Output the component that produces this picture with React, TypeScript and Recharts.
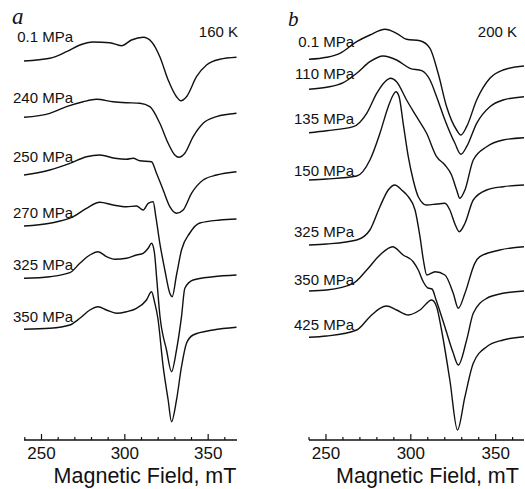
import React from "react";
import { LineChart, Line, XAxis, YAxis } from "recharts";

// field (mT) / signal (a.u., stacked)
// panel a, 160 K
const pressuresA = ["0.1 MPa", "240 MPa", "250 MPa", "270 MPa", "325 MPa", "350 MPa"];

const fieldA01 = [239.5, 255, 265, 273, 281, 291, 298, 304, 311, 316, 321, 326, 331, 333.6, 337, 343, 349, 357, 367];
const signalA01 = [379, 381.7, 388.3, 395, 398, 397.3, 394.3, 400, 402.7, 398.3, 383.3, 360, 343.3, 339.3, 343.3, 363.3, 375, 380.7, 382.7];

const fieldA240 = [239.5, 255, 265, 275, 283, 293, 301, 309, 315, 321, 326, 330, 332.4, 336, 341, 347, 355, 367];
const signalA240 = [322.7, 326.7, 333.3, 338.3, 340.7, 338.3, 337.3, 336.7, 333.3, 316.7, 296.7, 285, 282.7, 286.7, 303.3, 316.7, 323.3, 326.7];

const fieldA250 = [239.5, 255, 267, 277, 285, 294, 301, 305, 309, 316, 319, 323, 327, 331, 335, 340, 347, 355, 367];
const signalA250 = [265, 270, 276.7, 283.3, 285, 281.7, 280.7, 281.7, 279.3, 278.3, 266.7, 250, 233.3, 226.7, 230, 246.7, 260, 265, 268.3];

const fieldA270 = [239.5, 255, 269, 277, 285, 293, 301, 307, 311, 314, 317, 318.6, 321, 324, 327, 328.4, 331, 334, 339, 345, 357, 367];
const signalA270 = [214, 216.7, 223.3, 231.7, 237.7, 235, 233.3, 234, 230, 236.7, 238.3, 223.3, 196.7, 170, 146.7, 143.3, 165, 190, 207, 217, 220, 221];

const fieldA325 = [239.5, 255, 267, 273, 279, 284, 289, 294, 301, 307, 311, 314, 316, 317.7, 319.2, 321, 325, 328, 331, 334, 336, 341, 353, 367];
const signalA325 = [161.7, 163.3, 167.3, 176.7, 185, 188.3, 183.3, 180.7, 181.7, 185, 186.7, 191.7, 196.7, 188, 160, 125, 90, 68.3, 90, 123.3, 151.7, 160, 163.3, 165];

const fieldA350 = [239.5, 255, 267, 273, 279, 284, 289, 295, 301, 307, 313, 316, 318, 319.8, 323, 326, 328, 331, 334, 337, 341, 353, 367];
const signalA350 = [110.7, 111.7, 115, 121.7, 130, 133.3, 130, 126.7, 128.3, 131.7, 140, 148.3, 136.7, 122, 73.3, 40, 18.3, 40, 73.3, 96.7, 105, 110, 112.7];

// panel b, 200 K
const pressuresB = ["0.1 MPa", "110 MPa", "135 MPa", "150 MPa", "325 MPa", "350 MPa", "425 MPa"];

const fieldB01 = [240, 250.4, 258.2, 268.1, 275.9, 284.8, 291.6, 297.5, 305.4, 311.3, 316.1, 321.1, 327, 329.5, 332.9, 338.8, 346.6, 354.4, 366.7];
const signalB01 = [380.7, 382.7, 386.7, 398.3, 405, 410.7, 406.7, 400.7, 399.3, 391.7, 366.7, 333.3, 310, 305, 313.3, 340, 361.7, 370, 374];

const fieldB110 = [240, 250.4, 260.2, 268.1, 275.9, 283.7, 291.6, 299.5, 306.4, 311.3, 315.2, 320.1, 326, 329.5, 332.9, 338.8, 346.6, 354.4, 366.7];
const signalB110 = [350.7, 352.7, 357.3, 366.7, 378.3, 384, 380, 371.7, 369.3, 360, 343.3, 320, 296.7, 285.7, 293.3, 316.7, 333.3, 340, 343.3];

const fieldB135 = [240, 250.4, 266.1, 274, 279.9, 284.8, 288.1, 291.6, 297.5, 303.4, 309.3, 315.2, 320.1, 324, 327, 328.9, 331.9, 336.8, 344.7, 354.4, 366.7];
const signalB135 = [307.3, 309.3, 313.3, 326.7, 346.7, 358.3, 361.7, 358.3, 340, 323.3, 306.7, 283.3, 275, 265, 250, 241.7, 250, 280, 293.3, 300, 302.3];

const fieldB150 = [240, 250.4, 268.1, 275.9, 281.8, 286.7, 289.6, 291.2, 293.1, 295.5, 298.5, 301.4, 304.4, 309.3, 315.4, 320.1, 323, 326, 328.5, 331.9, 336.8, 344.7, 354.4, 366.7];
const signalB150 = [260, 261, 264, 280, 306.7, 333.3, 345, 348.3, 343.3, 316.7, 283.3, 260, 243.3, 235, 236, 236.7, 230, 216, 208.3, 216.7, 240, 250, 253.3, 255];

const fieldB325 = [240, 250.4, 268.1, 275.9, 281.8, 286.7, 290.6, 294.6, 298.5, 302.5, 305.4, 307.4, 309.4, 314.3, 320.1, 325, 328, 331.9, 337.7, 340.7, 352.4, 366.7];
const signalB325 = [195, 196, 200, 210, 233.3, 250, 255, 250, 243.3, 230, 203.3, 180, 165, 168.3, 165, 146.7, 131.7, 146.7, 176.7, 183.3, 190, 193.3];

const fieldB350 = [240, 250.4, 266.1, 274, 281.8, 289.3, 295.5, 301.4, 304.4, 307.4, 310.1, 312.5, 314.9, 320.1, 324.8, 328, 332.9, 336.8, 344.7, 354.4, 366.7];
const signalB350 = [149, 150, 156.7, 170, 185, 193.3, 185, 178.3, 170, 158, 152, 151, 140, 113, 88, 75, 100, 126.7, 141.7, 146.7, 149];

const fieldB425 = [240, 250.4, 268.1, 275.9, 281.8, 285.7, 291.6, 298.5, 305.4, 312.3, 315.2, 318.1, 323, 327.5, 331.9, 336.8, 344.7, 354.4, 366.7];
const signalB425 = [102.7, 104, 110, 123.3, 131.7, 134, 130, 125, 130, 140, 133.3, 110, 60, 10, 43.3, 76.7, 93.3, 100, 103.3];

const fieldTicks = [240, 250, 260, 270, 280, 290, 300, 310, 320, 330, 340, 350, 360];

// layout
const H = 489;
const AXIS_H = 49;
const FONT = "'Liberation Sans', Arial, Helvetica, sans-serif";
const INK = "#111";

const toPoints = (fields: number[], signal: number[]) =>
  fields.map((b, i) => ({ b, s: signal[i] }));

const spectraA = [
  toPoints(fieldA01, signalA01),
  toPoints(fieldA240, signalA240),
  toPoints(fieldA250, signalA250),
  toPoints(fieldA270, signalA270),
  toPoints(fieldA325, signalA325),
  toPoints(fieldA350, signalA350),
];
const spectraB = [
  toPoints(fieldB01, signalB01),
  toPoints(fieldB110, signalB110),
  toPoints(fieldB135, signalB135),
  toPoints(fieldB150, signalB150),
  toPoints(fieldB325, signalB325),
  toPoints(fieldB350, signalB350),
  toPoints(fieldB425, signalB425),
];

// label baselines (px) for each trace
const labelYA = [42, 103, 162, 218, 270, 322];
const labelYB = [47, 79, 124, 176, 237, 285, 330];

function FieldTick(props: any) {
  const { x, y, payload } = props;
  const v = payload.value as number;
  const major = v % 50 === 0;
  return (
    <g>
      <line x1={x} x2={x} y1={y} y2={y - (major ? 6 : 3)} stroke={INK} strokeWidth={1.2} />
      {major && (
        <text x={x} y={y + 19} textAnchor="middle" fontSize={17} fontFamily={FONT} fill={INK}>
          {v}
        </text>
      )}
    </g>
  );
}

function AxisTitle(props: any) {
  const { viewBox, shift } = props;
  if (!viewBox) return null;
  return (
    <text
      x={viewBox.x + viewBox.width / 2 + shift}
      y={viewBox.y + 43}
      textAnchor="middle"
      fontSize={21.5}
      fontFamily={FONT}
      fill={INK}
    >
      Magnetic Field, mT
    </text>
  );
}

function Panel({
  spectra,
  left,
  width,
  margin,
  domain,
  titleShift,
}: {
  spectra: { b: number; s: number }[][];
  left: number;
  width: number;
  margin: { top: number; right: number; bottom: number; left: number };
  domain: [number, number];
  titleShift: number;
}) {
  return (
    <div style={{ position: "absolute", left, top: 0 }}>
      <LineChart width={width} height={H} margin={margin}>
        <XAxis
          dataKey="b"
          type="number"
          domain={domain}
          allowDataOverflow
          ticks={fieldTicks}
          interval={0}
          tickLine={false}
          tickSize={0}
          tickMargin={0}
          tick={<FieldTick />}
          height={AXIS_H}
          axisLine={{ stroke: INK, strokeWidth: 1.3 }}
          label={<AxisTitle shift={titleShift} />}
        />
        <YAxis hide type="number" domain={[0, 440]} allowDataOverflow />
        {spectra.map((pts, i) => (
          <Line
            key={i}
            data={pts}
            dataKey="s"
            type="monotone"
            stroke={INK}
            strokeWidth={1.4}
            dot={false}
            activeDot={false}
            isAnimationActive={false}
          />
        ))}
      </LineChart>
    </div>
  );
}

export default function App() {
  return (
    <div style={{ position: "absolute", left: 0, top: 0, width: 525, height: H, background: "#fff", overflow: "hidden" }}>
      <Panel
        spectra={spectraA}
        left={0}
        width={240}
        margin={{ top: 0, right: 3, bottom: 0, left: 24 }}
        domain={[239.5, 367.3]}
        titleShift={14.5}
      />
      <Panel
        spectra={spectraB}
        left={262}
        width={263}
        margin={{ top: 0, right: 1, bottom: 0, left: 47 }}
        domain={[240, 366.7]}
        titleShift={11}
      />
      <svg width={525} height={H} style={{ position: "absolute", left: 0, top: 0, pointerEvents: "none" }}>
        <text x={12} y={24} fontSize={23} fontStyle="italic" fontFamily="'Liberation Serif', 'Times New Roman', serif" fill={INK}>
          a
        </text>
        <text x={288} y={26} fontSize={21} fontStyle="italic" fontFamily="'Liberation Serif', 'Times New Roman', serif" fill={INK}>
          b
        </text>
        <text x={238} y={37} textAnchor="end" fontSize={15} fontFamily={FONT} fill={INK}>
          160 K
        </text>
        <text x={517} y={37} textAnchor="end" fontSize={15} fontFamily={FONT} fill={INK}>
          200 K
        </text>
        {pressuresA.map((p, i) => (
          <text key={p} x={73} y={labelYA[i]} textAnchor="end" fontSize={15} fontFamily={FONT} fill={INK}>
            {p}
          </text>
        ))}
        {pressuresB.map((p, i) => (
          <text key={p} x={354} y={labelYB[i]} textAnchor="end" fontSize={15} fontFamily={FONT} fill={INK}>
            {p}
          </text>
        ))}
      </svg>
    </div>
  );
}
